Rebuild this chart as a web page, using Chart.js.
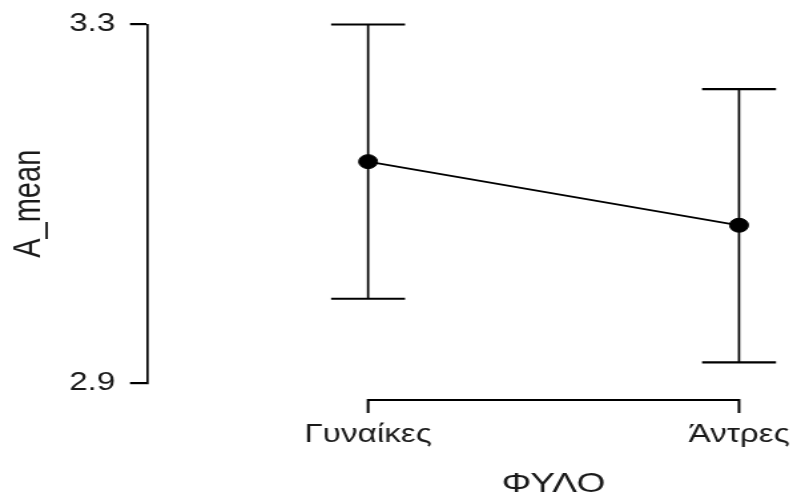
<!DOCTYPE html>
<html>
<head>
<meta charset="utf-8">
<script src="https://cdn.jsdelivr.net/npm/chart.js@4/dist/chart.umd.min.js"></script>
<style>
  html, body { margin: 0; padding: 0; background: #fff; overflow: hidden; }
</style>
</head>
<body>
<canvas id="plot" width="596" height="497" style="display:block;width:793px;height:497px"></canvas>
<script>
// Group means of A_mean by ΦΥΛΟ with their interval limits
const categories = ['Γυναίκες', 'Άντρες'];
const means = [3.147, 3.076];
const lower = [2.994, 2.923];
const upper = [3.300, 3.228];
const yTickValues = [2.9, 3.3];
const yTitle = 'A_mean';
const xTitle = 'ΦΥΛΟ';

const FONT = '"Liberation Sans", Arial, Helvetica, sans-serif';
const INK = '#1a1a1a';

// One vertical segment with flat caps per category
const errorBarSets = categories.map((c, i) => ({
  label: c + ' interval',
  data: [{ x: i, y: lower[i] }, { x: i, y: upper[i] }],
  borderColor: '#000',
  borderWidth: 1.7,
  showLine: true,
  pointStyle: 'line',
  pointRadius: 27.8,
  pointBorderWidth: 2.2,
  pointBorderColor: '#000',
  clip: false
}));

// R-style bracket x axis spanning the first to the last category, plus its title
const bracketAxis = {
  id: 'bracketAxis',
  afterDraw(chart) {
    const { ctx, chartArea, scales: { x } } = chart;
    const x0 = x.getPixelForValue(0);
    const x1 = x.getPixelForValue(categories.length - 1);
    const y = chartArea.bottom + 17;
    const tick = 13;
    ctx.save();
    ctx.strokeStyle = '#000';
    ctx.lineWidth = 2;
    ctx.beginPath();
    ctx.moveTo(x0, y + tick);
    ctx.lineTo(x0, y);
    ctx.lineTo(x1, y);
    ctx.lineTo(x1, y + tick);
    ctx.stroke();
    ctx.font = '28px ' + FONT;
    ctx.fillStyle = INK;
    ctx.textAlign = 'center';
    ctx.textBaseline = 'middle';
    ctx.fillText(xTitle, (x0 + x1) / 2, 484);
    ctx.restore();
  }
};

new Chart(document.getElementById('plot'), {
  type: 'line',
  data: {
    datasets: [
      {
        label: yTitle,
        data: categories.map((c, i) => ({ x: i, y: means[i] })),
        borderColor: '#000',
        borderWidth: 1.8,
        backgroundColor: '#000',
        pointRadius: 7,
        pointBorderWidth: 1,
        pointBackgroundColor: '#000',
        pointBorderColor: '#000',
        clip: false
      },
      ...errorBarSets
    ]
  },
  options: {
    responsive: false,
    animation: false,
    devicePixelRatio: 1,
    events: [],
    layout: { autoPadding: false, padding: { top: 24.5, right: 6, left: 0, bottom: 0 } },
    plugins: { legend: { display: false }, tooltip: { enabled: false } },
    scales: {
      x: {
        type: 'linear',
        min: -0.596,
        max: 1.124,
        afterBuildTicks: s => { s.ticks = categories.map((c, i) => ({ value: i })); },
        afterFit: s => { s.height = 114; s.paddingLeft = 0; s.paddingRight = 0; },
        grid: { display: false, drawTicks: false },
        border: { display: false },
        ticks: {
          callback: v => categories[v],
          font: { family: FONT, size: 25 },
          color: INK,
          padding: 37,
          maxRotation: 0,
          autoSkip: false
        }
      },
      y: {
        type: 'linear',
        min: 2.9,
        max: 3.3,
        afterBuildTicks: s => { s.ticks = yTickValues.map(v => ({ value: v })); },
        afterFit: s => { s.width = 110.5; s.paddingTop = 0; s.paddingBottom = 0; },
        grid: {
          display: true,
          drawOnChartArea: false,
          drawTicks: true,
          tickLength: 12.8,
          color: '#000',
          lineWidth: 2.2
        },
        border: { display: true, color: '#000', width: 1.7 },
        ticks: {
          callback: v => v.toFixed(1),
          font: { family: FONT, size: 25 },
          color: INK,
          padding: 11
        },
        title: {
          display: true,
          text: yTitle,
          font: { family: FONT, size: 29 },
          color: INK,
          padding: { top: 5, bottom: 0 }
        }
      }
    }
  },
  plugins: [bracketAxis]
});
</script>
</body>
</html>
